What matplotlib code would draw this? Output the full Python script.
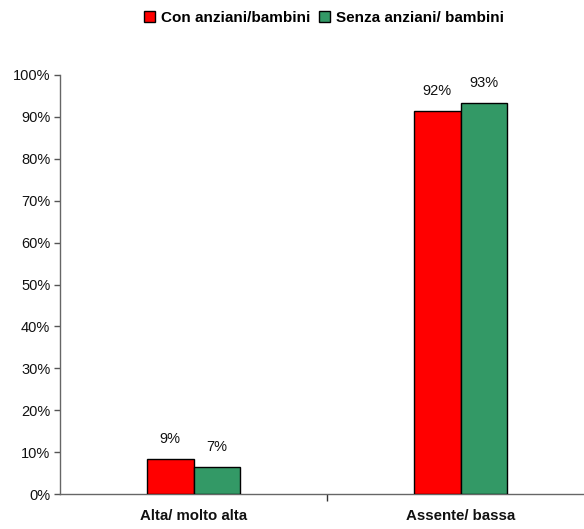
import matplotlib
matplotlib.use("Agg")
import matplotlib.pyplot as plt
from matplotlib.patches import Patch
from matplotlib.ticker import FuncFormatter

plt.rcParams['font.family'] = ['Liberation Sans', 'DejaVu Sans']

categories = ["Alta/ molto alta", "Assente/ bassa"]
series_names = ["Con anziani/bambini", "Senza anziani/ bambini"]
con_vals = [0.084, 0.915]
senza_vals = [0.065, 0.934]
con_labels = ["9%", "92%"]
senza_labels = ["7%", "93%"]
colors = ["#ff0000", "#339966"]

fig = plt.figure(figsize=(5.84, 5.29), dpi=100)
W, H = 584, 529
left_px, right_px = 60, 594
bottom_px, top_px = 494, 75
ax = fig.add_axes([left_px / W, (H - bottom_px) / H, (right_px - left_px) / W, (bottom_px - top_px) / H])

bw = 0.176
xs = list(range(len(categories)))
for i, x in enumerate(xs):
    for vals, labs, col, off in ((con_vals, con_labels, colors[0], -bw / 2),
                                 (senza_vals, senza_labels, colors[1], bw / 2)):
        ax.bar(x + off, vals[i], width=bw, color=col, edgecolor='black', linewidth=1.0, zorder=3)
        ax.annotate(labs[i], (x + off, vals[i]), xytext=(0, 9), textcoords='offset points',
                    ha='center', va='bottom', fontsize=10.5, color='#111111')

ax.set_xlim(-0.5, 1.5)
ax.set_ylim(0, 1.0)
ax.set_yticks([i / 10 for i in range(11)])
ax.yaxis.set_major_formatter(FuncFormatter(lambda v, p: f"{v*100:.0f}%"))
ax.tick_params(axis='y', direction='out', length=4, width=1, colors='#555555', labelcolor='#111111', labelsize=10.5, pad=3)

ax.set_xticks([0.5], minor=False)
ax.set_xticklabels([""])
ax.tick_params(axis='x', direction='out', length=5, width=1, colors='#333333')
for x, c in zip(xs, categories):
    ax.text(x, -0.052, c, transform=ax.get_xaxis_transform(), ha='center', va='center',
            fontsize=10.8, fontweight='bold', color='#111111')

for s in ['top', 'right']:
    ax.spines[s].set_visible(False)
ax.spines['left'].set_color('#666666')
ax.spines['bottom'].set_color('#666666')
ax.spines['left'].set_linewidth(1.0)
ax.spines['bottom'].set_linewidth(1.0)

handles = [Patch(facecolor=colors[0], edgecolor='black', label=series_names[0]),
           Patch(facecolor=colors[1], edgecolor='black', label=series_names[1])]
fig.legend(handles=handles, loc='center', bbox_to_anchor=(324 / W, 1 - 18 / H), ncol=2, frameon=False,
           prop={'weight': 'bold', 'size': 11}, handlelength=0.7, handleheight=0.7,
           handletextpad=0.4, columnspacing=0.6)

fig.savefig("out.png", dpi=100)
